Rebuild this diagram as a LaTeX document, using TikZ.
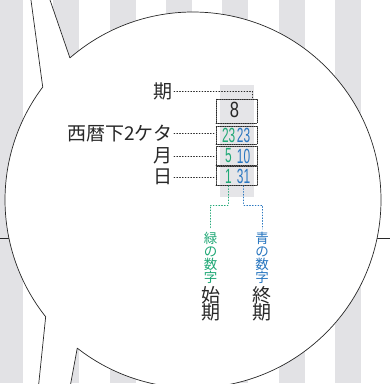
\documentclass[tikz,border=0pt]{standalone}
\usepackage{fontspec}
\setmainfont{Noto Sans CJK JP}
\newfontfamily\numfont[FakeStretch=0.58]{Liberation Sans}
\newfontfamily\bignumfont[FakeStretch=0.75]{Liberation Sans}
\definecolor{stripegray}{RGB}{226,226,229}
\definecolor{colgray}{RGB}{229,229,232}
\definecolor{numgreen}{RGB}{32,168,118}
\definecolor{numblue}{RGB}{40,118,192}
\definecolor{ink}{RGB}{40,40,40}
\tikzset{
  numbox/.style={draw=ink,densely dotted,line width=.8pt,minimum width=41pt,inner sep=0pt},
  leader/.style={draw=ink,dotted,line width=.8pt},
  lbl/.style={text=ink,font=\fontsize{19}{19}\selectfont,inner sep=1pt},
  num/.style={font=\numfont\fontsize{20.5}{20.5}\selectfont,inner sep=0pt},
  key/.style={align=center,inner sep=0pt,font=\fontsize{13.5}{12.9}\selectfont},
  term/.style={align=center,inner sep=0pt,text=ink,font=\fontsize{19}{17.5}\selectfont}
}
\begin{document}
\begin{tikzpicture}[x=1pt,y=-1pt,line cap=round,line join=round]
    \useasboundingbox (0,0) rectangle (390,383);
    \clip (0,0) rectangle (390,383);
    \foreach \k in {0,...,6}
      \fill[stripegray] ({-3+56.3*\k},0) rectangle +(26,383);
    \draw[line width=.7pt,ink] (0,238) -- (390,238);
    % speech bubble
    \draw[line width=.7pt,draw=ink,fill=white]
      (48.3,-5) -- ([shift={(193,200)}]-130.9:188)
      arc[start angle=-130.9,end angle=128,radius=188]
      -- (69.5,390) -- (38.1,390)
      -- ([shift={(193,200)}]141.6:188)
      arc[start angle=141.6,end angle=216.93,radius=188]
      -- (30.3,-5);
    \fill[colgray] (220,85) rectangle (254,197);
    \node[numbox,minimum height=24pt] (b8) at (236.5,111) {};
    \node[numbox,minimum height=18pt] (byear) at (236.5,135) {};
    \node[numbox,minimum height=19pt] (bmon) at (236.5,156) {};
    \node[numbox,minimum height=19pt] (bday) at (236.5,176) {};
    \node[num,text=ink,font=\bignumfont\fontsize{22}{22}\selectfont] (n8) at (234.5,110) {8};
    \node[num,text=numgreen] (yg) at (228.7,135) {23};
    \node[num,text=numblue] (yb) at (243.5,135) {23};
    \node[num,text=numgreen] (mg) at (228.5,156) {5};
    \node[num,text=numblue] (mb) at (243.5,156) {10};
    \node[num,text=numgreen] (dg) at (228.5,176) {1};
    \node[num,text=numblue] (db) at (243.5,176) {31};
    \node[lbl,anchor=east] (lki) at (174,91) {期};
    \node[lbl,anchor=east] (lyear) at (174,133.5) {西暦下2ケタ};
    \node[lbl,anchor=east] (lmon) at (174,156) {月};
    \node[lbl,anchor=east] (lday) at (174,177) {日};
    \coordinate (kicorner) at (252,91);
    \draw[leader] (lki.east) -- (kicorner) -- (kicorner |- b8.north);
    \draw[leader] (lyear.east) -- (lyear.east -| byear.west);
    \draw[leader] (lmon.east) -- (lmon.east -| bmon.west);
    \draw[leader] (lday.east) -- (lday.east -| bday.west);
    \node[key,text=numgreen,anchor=north] (gkey) at (210.5,232) {緑\\の\\数\\字};
    \node[term,anchor=north] (gterm) at (210.5,286) {始\\期};
    \node[key,text=numblue,anchor=north] (bkey) at (262,232) {青\\の\\数\\字};
    \node[term,anchor=north] (bterm) at (262,286) {終\\期};
    \coordinate (gturn) at (210.5,205);
    \coordinate (bturn) at (262,205);
    \draw[leader,draw=numgreen] (dg |- bday.south) |- (gturn) -- ([yshift=3pt]gkey.north);
    \draw[leader,draw=numblue] (db |- bday.south) |- (bturn) -- ([yshift=3pt]bkey.north);
  \end{tikzpicture}
\end{document}
